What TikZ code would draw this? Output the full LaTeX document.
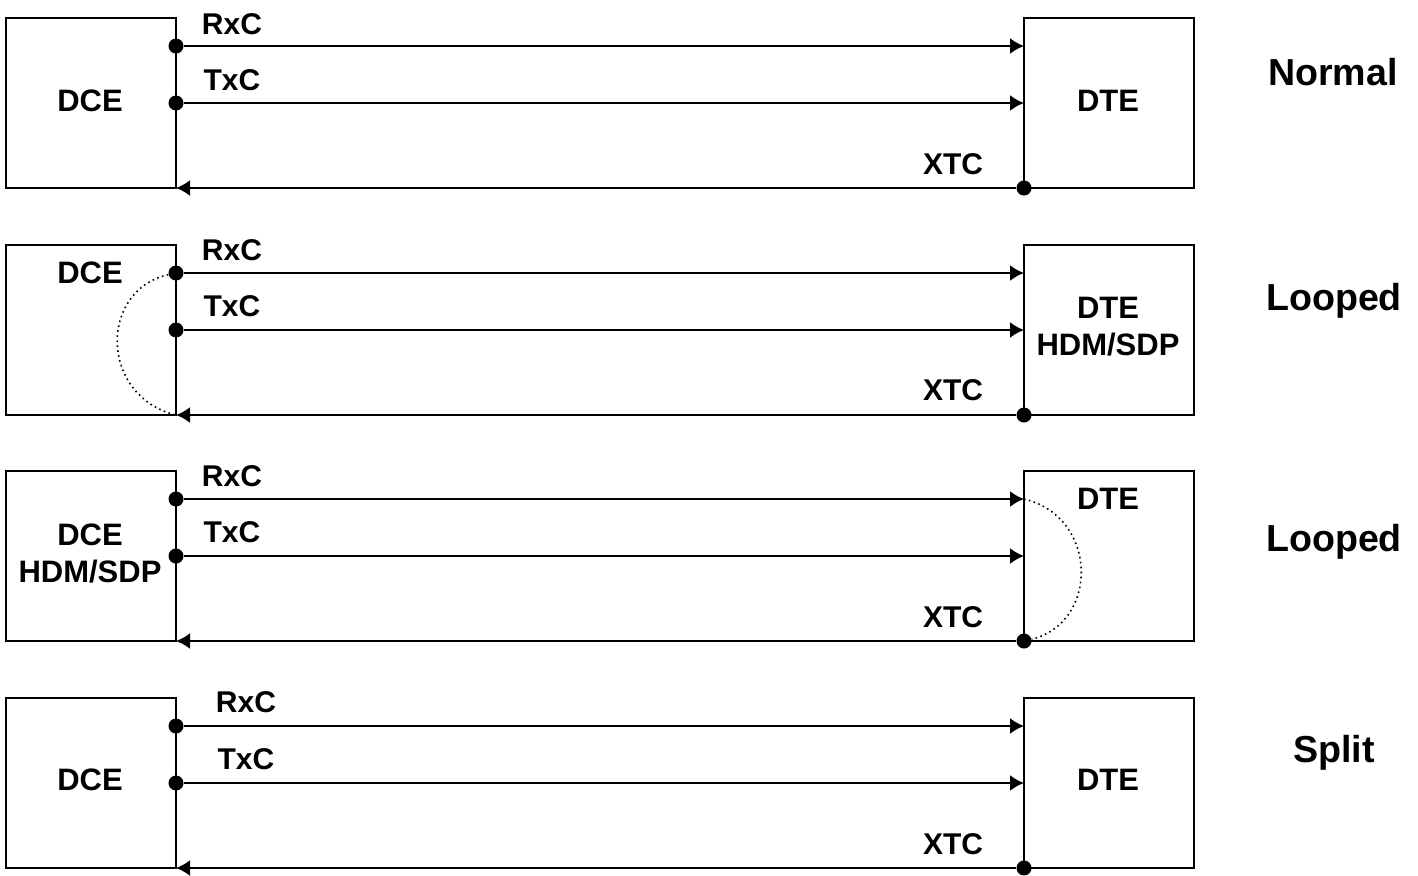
\documentclass[tikz,border=0pt]{standalone}
\usepackage{fontspec}
\setmainfont{Liberation Sans}
\usepackage{tikz}
\usetikzlibrary{arrows.meta}
\tikzset{
    unitbox/.style={draw, line width=1pt, anchor=north west, outer sep=0pt, minimum width=85pt, minimum height=85pt, inner sep=0pt},
    junction/.style={circle, fill=black, inner sep=0pt, minimum size=7.5pt},
    clockline/.style={line width=1pt, -{Latex[length=7pt,width=8pt]}},
    loopline/.style={line width=0.8pt, dash pattern=on 0.8pt off 1.7pt},
    boxlabel/.style={font=\bfseries\fontsize{15.5}{15.5}\selectfont},
    linelabel/.style={font=\bfseries\fontsize{15}{15}\selectfont},
    modelabel/.style={font=\fontsize{18.8}{18.8}\selectfont\bfseries}
}
\begin{document}
\begin{tikzpicture}[x=0.5pt, y=-0.5pt]
    \useasboundingbox (0,0) rectangle (1418,875);

    % Boxes and clock lines, same in all four rows
    \foreach \rowname/\rowtop in {a/18, b/245, c/471, d/698} {
        \node[unitbox] (dce\rowname) at (6,\rowtop) {};
        \node[unitbox] (dte\rowname) at (1024,\rowtop) {};
        \node[junction] (rx\rowname) at (176,\rowtop+28) {};
        \node[junction] (tx\rowname) at (176,\rowtop+85) {};
        \node[junction] (xt\rowname) at (1024,\rowtop+170) {};
        \coordinate (rxend\rowname) at (1024,\rowtop+28);
        \coordinate (txend\rowname) at (1024,\rowtop+85);
        \coordinate (xtend\rowname) at (176,\rowtop+170);
        \draw[clockline] (rx\rowname) -- (rxend\rowname);
        \draw[clockline] (tx\rowname) -- (txend\rowname);
        \draw[clockline] (xt\rowname) -- (xtend\rowname);
    }

    % Normal
    \node[linelabel] (rxlabela) at (232,24) {RxC};
    \node[linelabel] (txlabela) at (232,80) {TxC};
    \node[linelabel] (xtlabela) at (953,164) {XTC};
    \node[boxlabel] (dcelabela) at (90,101) {DCE};
    \node[boxlabel] (dtelabela) at (1108,101) {DTE};
    \node[modelabel] (modea) at (1333,72) {Normal};

    % Looped at the DCE
    \node[linelabel] (rxlabelb) at (232,250) {RxC};
    \node[linelabel] (txlabelb) at (232,306) {TxC};
    \node[linelabel] (xtlabelb) at (953,390) {XTC};
    \node[boxlabel] (dcelabelb) at (90,273) {DCE};
    \node[boxlabel] (dtelabelb) at (1108,308) {DTE};
    \node[boxlabel] (hdmlabelb) at (1108,345) {HDM/SDP};
    \node[modelabel] (modeb) at (1334,301) {Looped};
    \draw[loopline] (rxb) .. controls (99,290) and (99,396) .. (xtendb);

    % Looped at the DTE
    \node[linelabel] (rxlabelc) at (232,476) {RxC};
    \node[linelabel] (txlabelc) at (232,532) {TxC};
    \node[linelabel] (xtlabelc) at (953,617) {XTC};
    \node[boxlabel] (dcelabelc) at (90,535) {DCE};
    \node[boxlabel] (hdmlabelc) at (90,572) {HDM/SDP};
    \node[boxlabel] (dtelabelc) at (1108,499) {DTE};
    \node[modelabel] (modec) at (1334,542) {Looped};
    \draw[loopline] (rxendc) .. controls (1099,517) and (1099,623) .. (xtc);

    % Split
    \node[linelabel] (rxlabeld) at (246,702) {RxC};
    \node[linelabel] (txlabeld) at (246,759) {TxC};
    \node[linelabel] (xtlabeld) at (953,844) {XTC};
    \node[boxlabel] (dcelabeld) at (90,780) {DCE};
    \node[boxlabel] (dtelabeld) at (1108,780) {DTE};
    \node[modelabel] (moded) at (1334,753) {Split};
\end{tikzpicture}
\end{document}
